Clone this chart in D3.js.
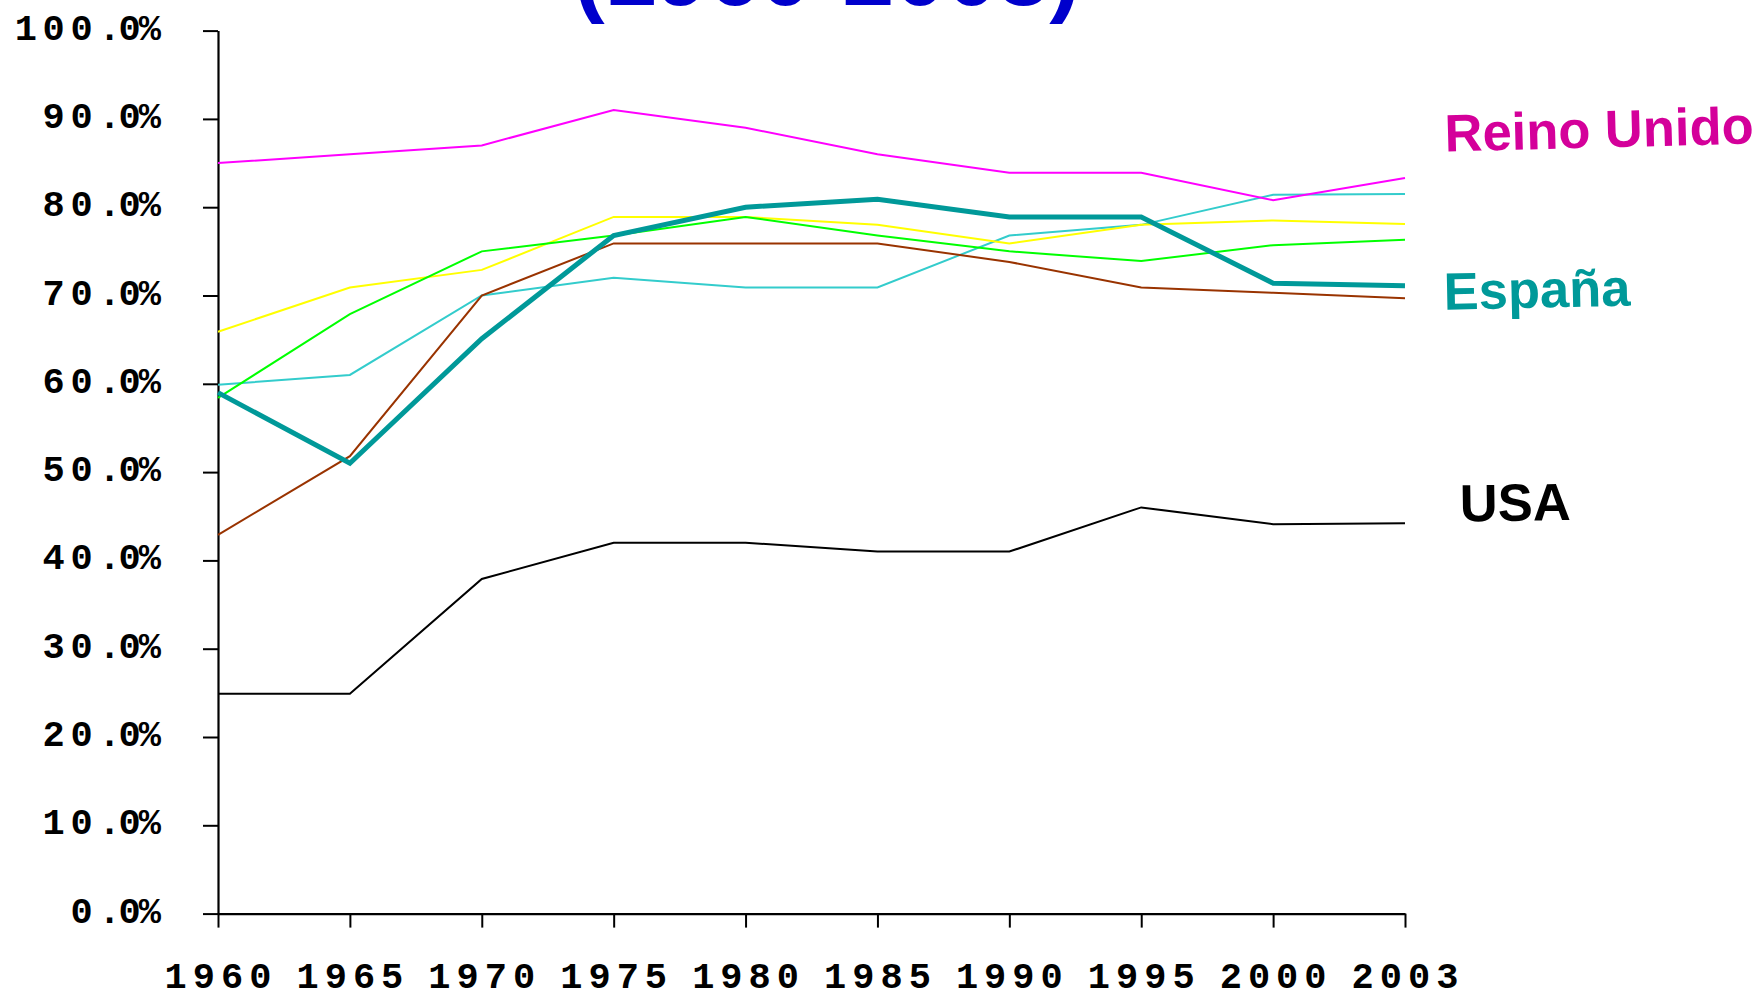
<!DOCTYPE html>
<html>
<head>
<meta charset="utf-8">
<script src="https://cdn.jsdelivr.net/npm/d3@7"></script>
<style>
  html, body { margin: 0; padding: 0; background: #fff; }
  .tick-label { font-family: "Liberation Mono", "DejaVu Sans Mono", monospace; font-weight: bold; }
  .annot { font-family: "Liberation Sans", Arial, sans-serif; font-weight: bold; }
</style>
</head>
<body>
<svg id="chart"></svg>
<script>
// data (percent)
const years = ["1960", "1965", "1970", "1975", "1980", "1985", "1990", "1995", "2000", "2003"];
const yTicks = [0, 10, 20, 30, 40, 50, 60, 70, 80, 90, 100];

const reinoUnido = [85, 86, 87, 91, 89, 86, 83.9, 83.9, 80.8, 83.3];
const espana = [59, 51, 65.1, 76.8, 80, 80.9, 78.9, 78.9, 71.4, 71.1];
const usa = [24.9, 24.9, 37.9, 42, 42, 41, 41, 46, 44.1, 44.2];
const serieAmarilla = [65.9, 70.9, 72.9, 78.9, 78.9, 78, 75.9, 78, 78.5, 78.1];
const serieVerde = [58.4, 67.9, 75, 76.8, 78.9, 76.8, 75, 73.9, 75.7, 76.3];
const serieTurquesa = [59.9, 61, 70, 72, 70.9, 70.9, 76.8, 78, 81.4, 81.5];
const serieMarron = [42.9, 51.8, 70, 75.9, 75.9, 75.9, 73.8, 70.9, 70.3, 69.7];

const series = [
    { id: "turquesa", values: serieTurquesa, color: "#33CCCC", width: 2 },
    { id: "marron", values: serieMarron, color: "#993300", width: 2 },
    { id: "amarilla", values: serieAmarilla, color: "#FFFF00", width: 2 },
    { id: "verde", values: serieVerde, color: "#00FF00", width: 2 },
    { id: "Reino Unido", values: reinoUnido, color: "#FF00FF", width: 2 },
    { id: "USA", values: usa, color: "#000000", width: 2 },
    { id: "España", values: espana, color: "#009999", width: 5 }
];

const totalWidth = 1760,
    totalHeight = 995;

const svg = d3.select("#chart")
    .attr("width", totalWidth)
    .attr("height", totalHeight);

const x = d3.scalePoint().domain(years).range([218, 1405]),
    y = d3.scaleLinear().domain([0, 100]).range([913.6, 30.6]);

// title (only its bottom shows at the top edge)
svg.append("text")
    .attr("class", "annot")
    .attr("x", 827)
    .attr("y", 5)
    .attr("text-anchor", "middle")
    .style("font-size", "93px")
    .style("fill", "#0000CC")
    .text("(1960-2003)");

// Y axis
const yAxis = svg.append("g")
    .attr("transform", "translate(" + x(years[0]) + ",0)")
    .call(d3.axisLeft(y).tickValues(yTicks).tickSize(15).tickSizeOuter(0).tickFormat(""));
yAxis.select(".domain").attr("stroke-width", 2.2);
yAxis.selectAll(".tick line").attr("stroke-width", 2);

const yLab = svg.append("g");
yTicks.forEach(t => {
    const parts = t.toFixed(1).split(".");
    const txt = yLab.append("text")
        .attr("class", "tick-label")
        .attr("x", 159)
        .attr("y", y(t) + 9)
        .attr("text-anchor", "end")
        .style("font-size", "37px");
    txt.append("tspan").style("letter-spacing", "5.7px").text(parts[0]);
    txt.append("tspan").style("letter-spacing", "-2px").text("." + parts[1] + "%");
});

// X axis
const xAxis = svg.append("g")
    .attr("transform", "translate(0," + y(0) + ")")
    .call(d3.axisBottom(x).tickSize(14).tickSizeOuter(0).tickFormat(""));
xAxis.select(".domain").attr("stroke-width", 2.2);
xAxis.selectAll(".tick line").attr("stroke-width", 2);

svg.append("g")
    .selectAll("text")
    .data(years)
    .enter()
    .append("text")
    .attr("class", "tick-label")
    .attr("x", d => x(d) + 3)
    .attr("y", 988)
    .attr("text-anchor", "middle")
    .style("font-size", "37px")
    .style("letter-spacing", "6px")
    .text(d => d);

// lines
const line = d3.line()
    .x((d, i) => x(years[i]))
    .y(d => y(d));

svg.append("g")
    .selectAll("path")
    .data(series)
    .enter()
    .append("path")
    .attr("d", d => line(d.values))
    .attr("fill", "none")
    .attr("stroke", d => d.color)
    .attr("stroke-width", d => d.width)
    .attr("stroke-linejoin", "miter");

// country labels
const labels = [
    { text: "Reino Unido", color: "#D4009A", dx: 40, yv: 86.3, rot: -1.5 },
    { text: "España", color: "#009999", dx: 39, yv: 68.4, rot: -1.2 },
    { text: "USA", color: "#000000", dx: 55, yv: 44.4, rot: -0.8 }
];

svg.append("g")
    .selectAll("text")
    .data(labels)
    .enter()
    .append("text")
    .attr("class", "annot")
    .attr("transform", d => "translate(" + (x(years[years.length - 1]) + d.dx) + "," + y(d.yv) + ") rotate(" + d.rot + ")")
    .style("font-size", "52.5px")
    .style("fill", d => d.color)
    .text(d => d.text);
</script>
</body>
</html>
